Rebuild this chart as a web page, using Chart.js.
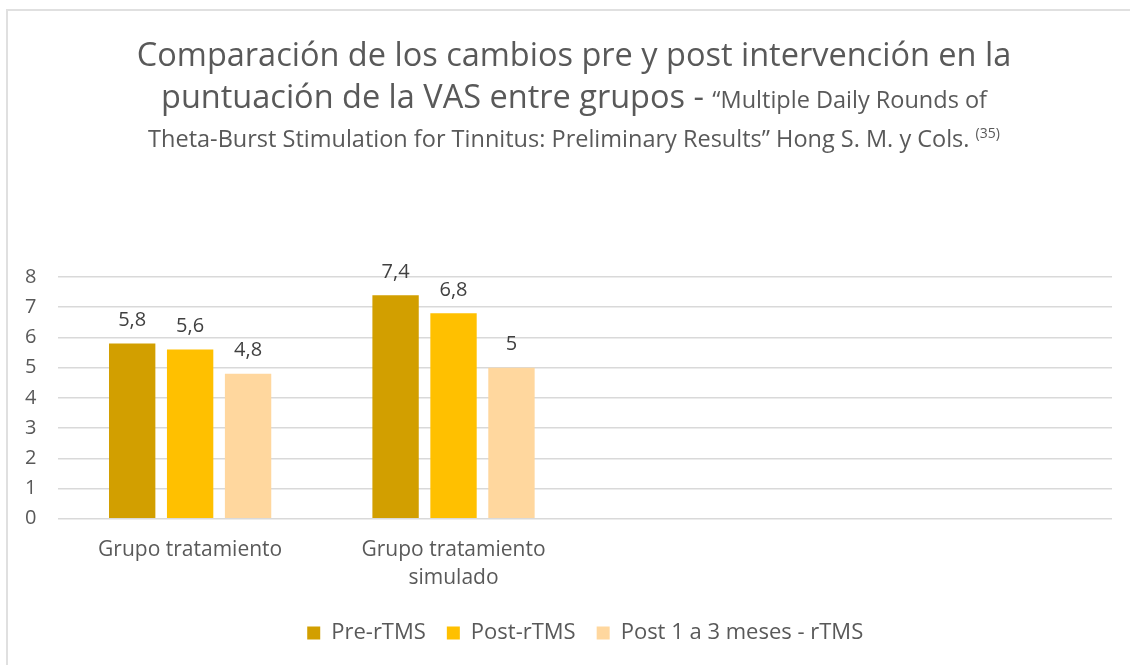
<!DOCTYPE html>
<html>
<head>
<meta charset="utf-8">
<script src="https://cdn.jsdelivr.net/npm/chart.js@4"></script>
<style>
  body { margin: 0; background: #fff; }
  #wrap { position: relative; width: 1130px; height: 665px; overflow: hidden; }
  #frame { position: absolute; left: 6px; top: 9px; width: 1200px; height: 700px;
           border-left: 2px solid #e0e0e0; border-top: 2px solid #e0e0e0; }
  #title { position: absolute; left: 0; top: 33px; width: 1148px; text-align: center;
           font-family: "Open Sans", sans-serif; color: #595959; white-space: nowrap; }
  #title .big { font-size: 32.5px; line-height: 42px; }
  #title .small { font-size: 23.5px; }
  #title .l3 { font-size: 23.5px; line-height: 26px; }
  #title sup { font-size: 14px; }
  canvas { position: absolute; left: 0; top: 0; }
</style>
</head>
<body>
<div id="wrap">
  <div id="frame"></div>
  <canvas id="chart" width="1130" height="665"></canvas>
  <div id="title">
    <div class="big">Comparación de los cambios pre y post intervención en la</div>
    <div class="big">puntuación de la VAS entre grupos - <span class="small">“Multiple Daily Rounds of</span></div>
    <div class="l3">Theta-Burst Stimulation for Tinnitus: Preliminary Results” Hong S. M. y Cols. <sup>(35)</sup></div>
  </div>
</div>
<script>
const categories = ['Grupo tratamiento', ['Grupo tratamiento', 'simulado'], '', ''];
const preRtms = [5.8, 7.4, null, null];
const postRtms = [5.6, 6.8, null, null];
const post1a3 = [4.8, 5, null, null];
const yTicks = [0, 1, 2, 3, 4, 5, 6, 7, 8];

// value labels above the bars, with comma decimals
const barLabels = {
  id: 'barLabels',
  afterDatasetsDraw(chart) {
    const c = chart.ctx;
    c.save();
    c.font = '20px "Open Sans", sans-serif';
    c.fillStyle = '#404040';
    c.textAlign = 'center';
    c.textBaseline = 'bottom';
    chart.data.datasets.forEach((ds, i) => {
      chart.getDatasetMeta(i).data.forEach((bar, j) => {
        const v = ds.data[j];
        if (v == null) return;
        c.fillText(String(v).replace('.', ','), bar.x, bar.y - 13);
      });
    });
    c.restore();
  }
};

// legend sits centred on the plot area rather than the canvas
const legendShift = {
  id: 'legendShift',
  afterLayout(chart) {
    const lg = chart.legend;
    const dx = (chart.chartArea.left + chart.chartArea.right) / 2 - (lg.left + lg.right) / 2;
    lg.left += dx;
    lg.right += dx;
  }
};

const ctx = document.getElementById('chart').getContext('2d');
new Chart(ctx, {
  type: 'bar',
  data: {
    labels: categories,
    datasets: [
      { label: 'Pre-rTMS', data: preRtms, backgroundColor: '#D29F00' },
      { label: 'Post-rTMS', data: postRtms, backgroundColor: '#FFC000' },
      { label: 'Post 1 a 3 meses - rTMS', data: post1a3, backgroundColor: '#FFD79E' }
    ]
  },
  options: {
    responsive: false,
    animation: false,
    categoryPercentage: 0.66,
    barPercentage: 0.8,
    layout: { padding: { top: 277, left: 3, right: 18, bottom: 11 } },
    plugins: {
      title: { display: false },
      tooltip: { enabled: false },
      legend: {
        position: 'bottom',
        labels: {
          boxWidth: 13, boxHeight: 13, padding: 21,
          color: '#595959',
          font: { family: 'Open Sans', size: 22 }
        }
      }
    },
    scales: {
      x: {
        grid: { display: false },
        border: { display: false },
        ticks: { color: '#595959', font: { family: 'Open Sans', size: 21, lineHeight: 1.34 }, maxRotation: 0, autoSkip: false, padding: 9 }
      },
      y: {
        min: 0, max: 8,
        afterBuildTicks(axis) { axis.ticks = yTicks.map(v => ({ value: v })); },
        grid: { color: '#d9d9d9', lineWidth: 1.5, drawTicks: false },
        border: { display: false },
        ticks: { color: '#595959', font: { family: 'Open Sans', size: 20 }, padding: 22 }
      }
    }
  },
  plugins: [barLabels, legendShift]
});
</script>
</body>
</html>
